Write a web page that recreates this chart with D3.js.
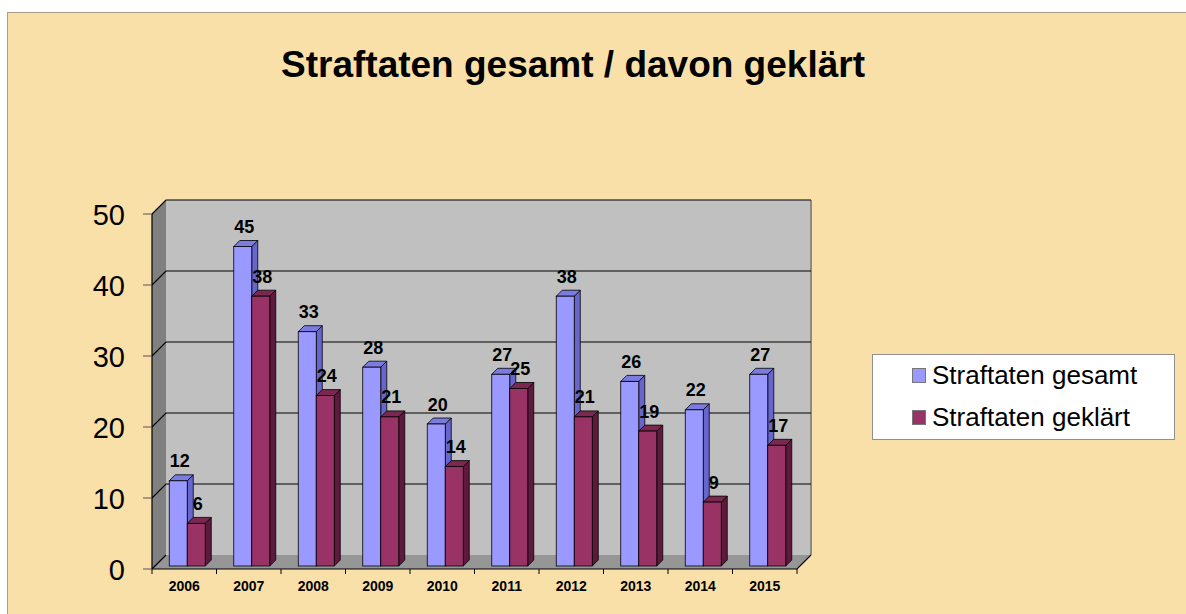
<!DOCTYPE html>
<html>
<head>
<meta charset="utf-8">
<script src="https://cdn.jsdelivr.net/npm/d3@7"></script>
<style>
  body { margin: 0; background: #fff; }
  svg text { font-family: "Liberation Sans", Arial, sans-serif; }
</style>
</head>
<body>
<script>
// data
var years = ["2006", "2007", "2008", "2009", "2010", "2011", "2012", "2013", "2014", "2015"];
var gesamt = [12, 45, 33, 28, 20, 27, 38, 26, 22, 27];
var geklaert = [6, 38, 24, 21, 14, 25, 21, 19, 9, 17];
var seriesNames = ["Straftaten gesamt", "Straftaten geklärt"];
var yTicks = [0, 10, 20, 30, 40, 50];

var width = 1186, height = 614;
var depth = 14;      // wall depth offset
var barDepth = 6;    // bar 3d offset
var barShift = 3;    // bars sit slightly inside the floor

var svg = d3.select("body").append("svg")
    .attr("width", width)
    .attr("height", height);

// background panel
svg.append("rect")
    .attr("x", 7.5).attr("y", 12.5)
    .attr("width", width).attr("height", height)
    .attr("fill", "#f9e0a8")
    .attr("stroke", "#a8a08a");

svg.append("text")
    .attr("x", 573).attr("y", 77)
    .attr("text-anchor", "middle")
    .style("font-size", "37px").style("font-weight", "bold")
    .text("Straftaten gesamt / davon geklärt");

var x = d3.scaleBand().domain(years).range([152, 797]);
var y = d3.scaleLinear().domain([0, 50]).range([569, 214]);

// left side wall
svg.append("path")
    .attr("d", "M152," + y(50) + " L" + (152 + depth) + "," + (y(50) - depth) +
        " L" + (152 + depth) + "," + (y(0) - depth) + " L152," + y(0) + "Z")
    .attr("fill", "#808080");

// back wall
svg.append("rect")
    .attr("x", 152 + depth).attr("y", y(50) - depth)
    .attr("width", 797 - 152).attr("height", y(0) - y(50))
    .attr("fill", "#c0c0c0");
svg.append("line")
    .attr("x1", 797 + depth).attr("x2", 797 + depth)
    .attr("y1", y(50) - depth).attr("y2", y(0) - depth)
    .attr("stroke", "#8a8a8a").attr("stroke-width", 2);

// floor
svg.append("path")
    .attr("d", "M152," + y(0) + " L" + (152 + depth) + "," + (y(0) - depth) +
        " L" + (797 + depth) + "," + (y(0) - depth) + " L797," + y(0) + "Z")
    .attr("fill", "#969696");

// gridlines (back wall + diagonal on side wall)
yTicks.forEach(function (t) {
    if (t === 0) return;
    svg.append("path")
        .attr("d", "M152," + y(t) + " L" + (152 + depth) + "," + (y(t) - depth) +
            " L" + (797 + depth) + "," + (y(t) - depth))
        .attr("fill", "none").attr("stroke", "#000").attr("stroke-width", 1.2);
});

// axes lines
svg.append("line").attr("x1", 152).attr("x2", 152).attr("y1", y(50)).attr("y2", y(0))
    .attr("stroke", "#000").attr("stroke-width", 1.2);
svg.append("path")
    .attr("d", "M152," + y(0) + " L797," + y(0) + " L" + (797 + depth) + "," + (y(0) - depth))
    .attr("fill", "none").attr("stroke", "#000").attr("stroke-width", 1.2);
svg.append("line").attr("x1", 152).attr("x2", 152 + depth)
    .attr("y1", y(0)).attr("y2", y(0) - depth)
    .attr("stroke", "#000").attr("stroke-width", 1.2);

// y ticks
var yAxis = svg.append("g");
yTicks.forEach(function (t) {
    yAxis.append("line").attr("x1", 143).attr("x2", 152)
        .attr("y1", y(t)).attr("y2", y(t)).attr("stroke", "#555");
    yAxis.append("text")
        .attr("x", 125).attr("y", y(t) + 11)
        .attr("text-anchor", "end")
        .style("font-size", "29px")
        .text(t);
});

// x ticks and labels
years.forEach(function (yr, i) {
    svg.append("line").attr("x1", x(yr)).attr("x2", x(yr))
        .attr("y1", y(0)).attr("y2", y(0) + 5).attr("stroke", "#000");
    svg.append("text")
        .attr("x", x(yr) + x.bandwidth() / 2)
        .attr("y", 591)
        .attr("text-anchor", "middle")
        .style("font-size", "14px").style("font-weight", "bold")
        .text(yr);
});
svg.append("line").attr("x1", 797).attr("x2", 797)
    .attr("y1", y(0)).attr("y2", y(0) + 5).attr("stroke", "#000");

// bars
var barW = 18;
var styles = [
    { front: "#9999ff", side: "#6666cc", top: "#7b7be0", vals: gesamt },
    { front: "#993366", side: "#5e1a3c", top: "#7a2850", vals: geklaert }
];
var bars = svg.append("g");
styles.forEach(function (s, k) {
    s.vals.forEach(function (v, i) {
        var x0 = x(years[i]) + x.bandwidth() / 2 - barW + barShift + k * barW;
        var y0 = y(v) - barShift;
        var yb = y(0) - barShift;
        var g = bars.append("g");
        g.append("path")
            .attr("d", "M" + (x0 + barW) + "," + y0 + " L" + (x0 + barW + barDepth) + "," + (y0 - barDepth) +
                " L" + (x0 + barW + barDepth) + "," + (yb - barDepth) + " L" + (x0 + barW) + "," + yb + "Z")
            .attr("fill", s.side).attr("stroke", "#000").attr("stroke-width", 0.8);
        g.append("path")
            .attr("d", "M" + x0 + "," + y0 + " L" + (x0 + barDepth) + "," + (y0 - barDepth) +
                " L" + (x0 + barW + barDepth) + "," + (y0 - barDepth) + " L" + (x0 + barW) + "," + y0 + "Z")
            .attr("fill", s.top).attr("stroke", "#000").attr("stroke-width", 0.8);
        g.append("rect")
            .attr("x", x0).attr("y", y0)
            .attr("width", barW).attr("height", yb - y0)
            .attr("fill", s.front).attr("stroke", "#000").attr("stroke-width", 0.8);
    });
});

// value labels
styles.forEach(function (s, k) {
    s.vals.forEach(function (v, i) {
        var cx = x(years[i]) + x.bandwidth() / 2 - barW / 2 + barShift + k * barW + 1.5;
        svg.append("text")
            .attr("x", cx).attr("y", y(v) - barShift - 13.5)
            .attr("text-anchor", "middle")
            .style("font-size", "18px").style("font-weight", "bold")
            .text(v);
    });
});

// legend
var legend = svg.append("g");
legend.append("rect")
    .attr("x", 872.5).attr("y", 354.5).attr("width", 302).attr("height", 85)
    .attr("fill", "#fff").attr("stroke", "#909090");
seriesNames.forEach(function (n, k) {
    var ly = 384 + k * 42;
    legend.append("rect")
        .attr("x", 912.5).attr("y", ly - 15.5).attr("width", 13).attr("height", 14)
        .attr("fill", styles[k].front).attr("stroke", "#777");
    legend.append("text")
        .attr("x", 932).attr("y", ly)
        .style("font-size", "26px")
        .text(n);
});
</script>
</body>
</html>
